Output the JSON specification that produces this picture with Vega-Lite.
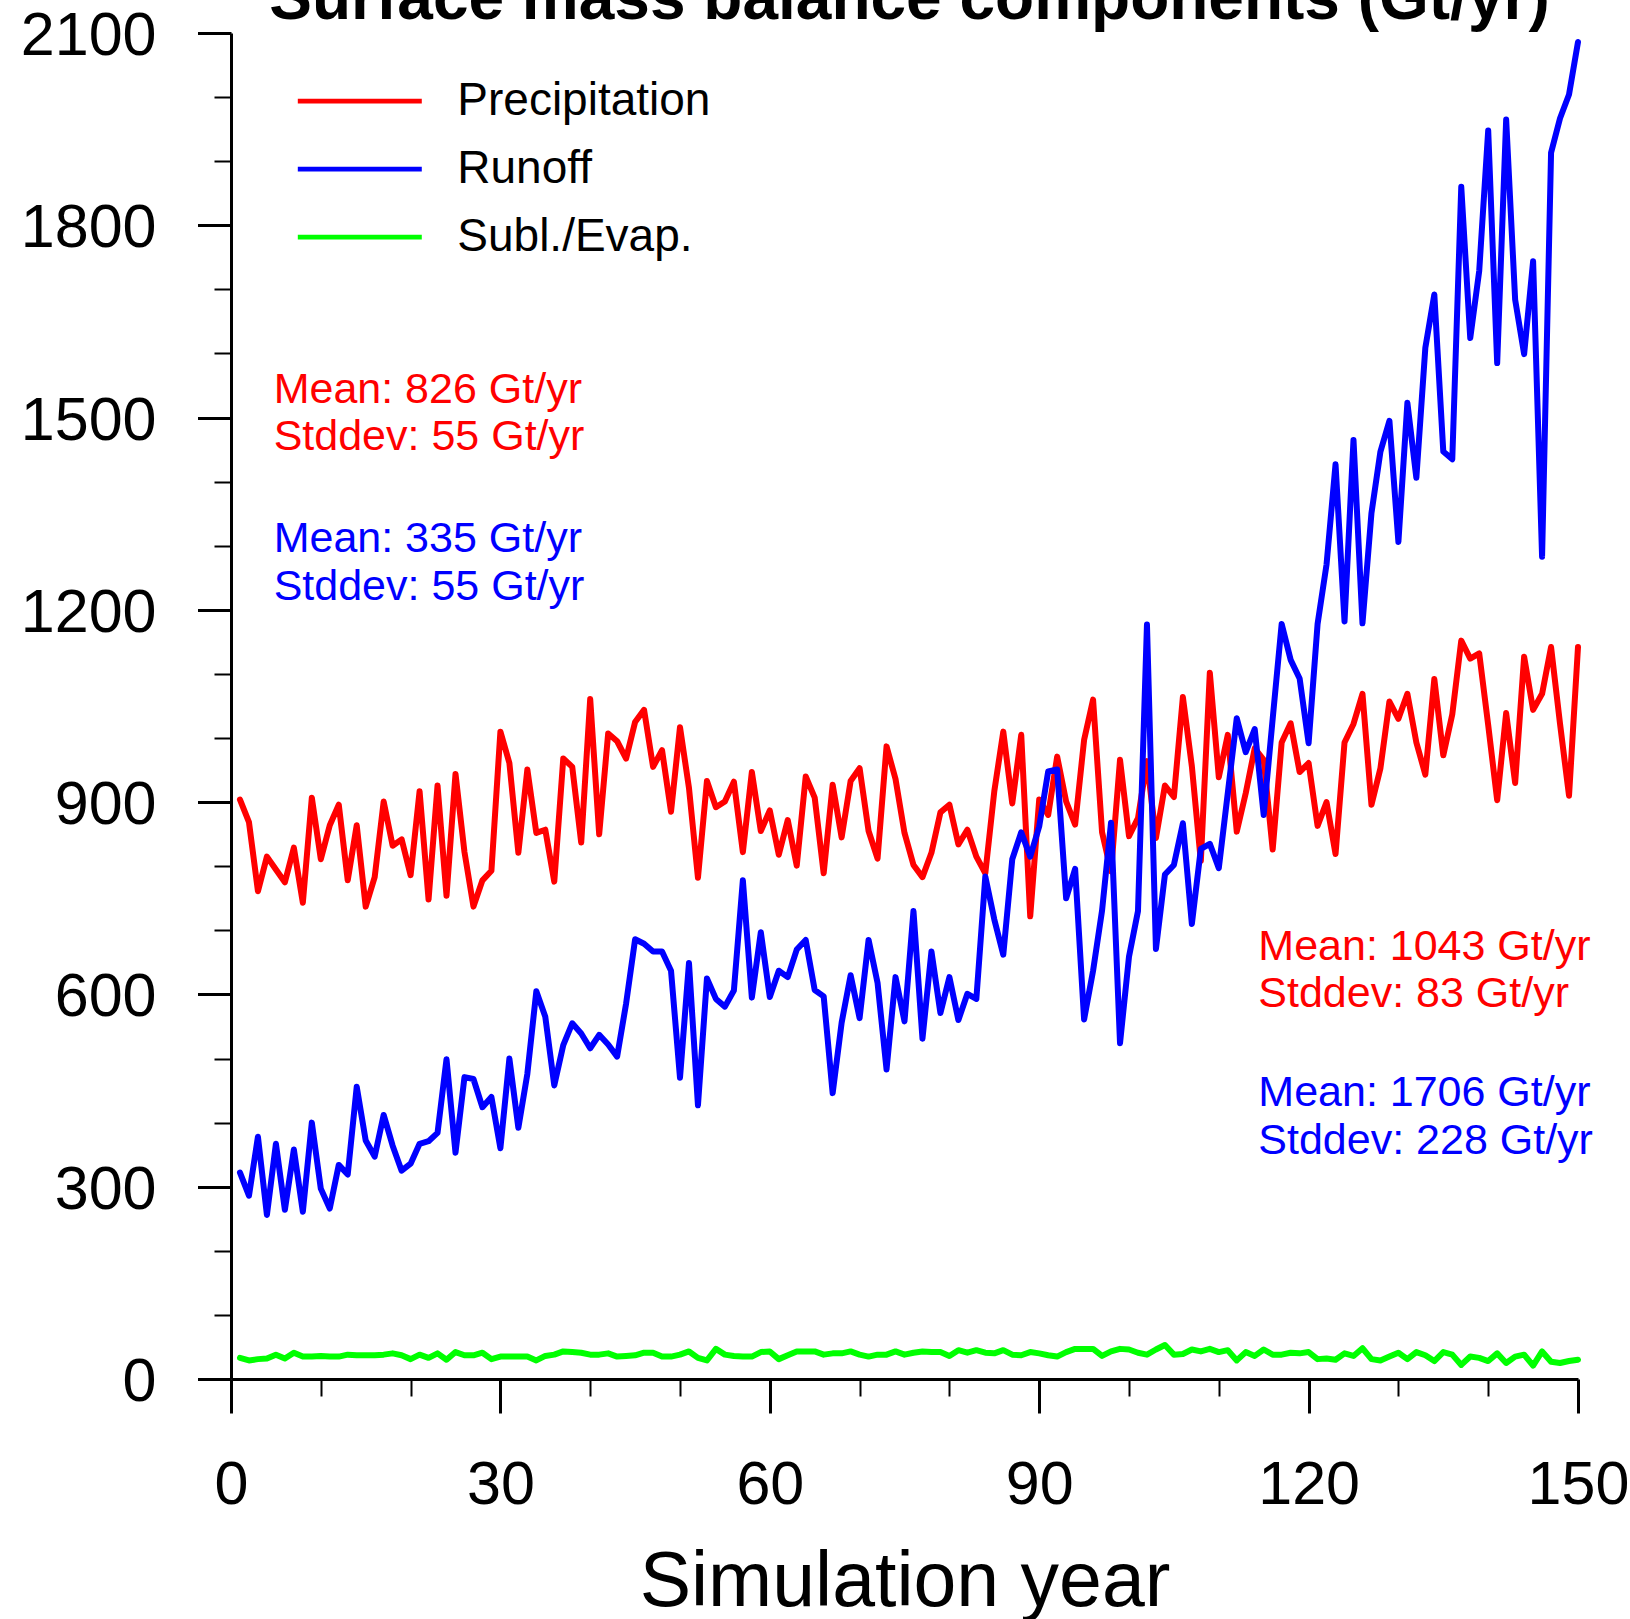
{
  "$schema": "https://vega.github.io/schema/vega-lite/v6.json",
  "autosize": {"type": "none"},
  "padding": {"left": 231, "top": 33, "right": 52, "bottom": 240},
  "width": 1347,
  "height": 1346,
  "background": "white",
  "title": {
    "text": "Surface mass balance components (Gt/yr)",
    "font": "Liberation Sans",
    "fontSize": 64,
    "fontWeight": "bold",
    "color": "black",
    "anchor": "middle",
    "frame": "group",
    "baseline": "alphabetic",
    "offset": -77,
    "dx": 5
  },
  "config": {
    "view": {"stroke": null},
    "axis": {"grid": false, "domainColor": "black", "tickColor": "black", "labelColor": "black", "titleColor": "black", "labelFont": "Liberation Sans", "titleFont": "Liberation Sans"}
  },
  "datasets": {
    "smb": [
      {"year":1,"series":"Precipitation","value":904},{"year":2,"series":"Precipitation","value":869},{"year":3,"series":"Precipitation","value":761},{"year":4,"series":"Precipitation","value":815},{"year":5,"series":"Precipitation","value":795},
      {"year":6,"series":"Precipitation","value":775},{"year":7,"series":"Precipitation","value":829},{"year":8,"series":"Precipitation","value":743},{"year":9,"series":"Precipitation","value":907},{"year":10,"series":"Precipitation","value":811},
      {"year":11,"series":"Precipitation","value":864},{"year":12,"series":"Precipitation","value":896},{"year":13,"series":"Precipitation","value":778},{"year":14,"series":"Precipitation","value":864},{"year":15,"series":"Precipitation","value":737},
      {"year":16,"series":"Precipitation","value":783},{"year":17,"series":"Precipitation","value":901},{"year":18,"series":"Precipitation","value":832},{"year":19,"series":"Precipitation","value":842},{"year":20,"series":"Precipitation","value":786},
      {"year":21,"series":"Precipitation","value":917},{"year":22,"series":"Precipitation","value":748},{"year":23,"series":"Precipitation","value":926},{"year":24,"series":"Precipitation","value":754},{"year":25,"series":"Precipitation","value":944},
      {"year":26,"series":"Precipitation","value":822},{"year":27,"series":"Precipitation","value":737},{"year":28,"series":"Precipitation","value":778},{"year":29,"series":"Precipitation","value":793},{"year":30,"series":"Precipitation","value":1010},
      {"year":31,"series":"Precipitation","value":961},{"year":32,"series":"Precipitation","value":821},{"year":33,"series":"Precipitation","value":951},{"year":34,"series":"Precipitation","value":852},{"year":35,"series":"Precipitation","value":857},
      {"year":36,"series":"Precipitation","value":776},{"year":37,"series":"Precipitation","value":968},{"year":38,"series":"Precipitation","value":955},{"year":39,"series":"Precipitation","value":837},{"year":40,"series":"Precipitation","value":1061},
      {"year":41,"series":"Precipitation","value":850},{"year":42,"series":"Precipitation","value":1007},{"year":43,"series":"Precipitation","value":995},{"year":44,"series":"Precipitation","value":968},{"year":45,"series":"Precipitation","value":1025},
      {"year":46,"series":"Precipitation","value":1044},{"year":47,"series":"Precipitation","value":955},{"year":48,"series":"Precipitation","value":981},{"year":49,"series":"Precipitation","value":885},{"year":50,"series":"Precipitation","value":1017},
      {"year":51,"series":"Precipitation","value":922},{"year":52,"series":"Precipitation","value":782},{"year":53,"series":"Precipitation","value":933},{"year":54,"series":"Precipitation","value":892},{"year":55,"series":"Precipitation","value":901},
      {"year":56,"series":"Precipitation","value":932},{"year":57,"series":"Precipitation","value":822},{"year":58,"series":"Precipitation","value":947},{"year":59,"series":"Precipitation","value":855},{"year":60,"series":"Precipitation","value":887},
      {"year":61,"series":"Precipitation","value":818},{"year":62,"series":"Precipitation","value":872},{"year":63,"series":"Precipitation","value":801},{"year":64,"series":"Precipitation","value":940},{"year":65,"series":"Precipitation","value":907},
      {"year":66,"series":"Precipitation","value":789},{"year":67,"series":"Precipitation","value":927},{"year":68,"series":"Precipitation","value":845},{"year":69,"series":"Precipitation","value":933},{"year":70,"series":"Precipitation","value":953},
      {"year":71,"series":"Precipitation","value":855},{"year":72,"series":"Precipitation","value":812},{"year":73,"series":"Precipitation","value":987},{"year":74,"series":"Precipitation","value":936},{"year":75,"series":"Precipitation","value":852},
      {"year":76,"series":"Precipitation","value":802},{"year":77,"series":"Precipitation","value":783},{"year":78,"series":"Precipitation","value":821},{"year":79,"series":"Precipitation","value":884},{"year":80,"series":"Precipitation","value":896},
      {"year":81,"series":"Precipitation","value":834},{"year":82,"series":"Precipitation","value":857},{"year":83,"series":"Precipitation","value":815},{"year":84,"series":"Precipitation","value":789},{"year":85,"series":"Precipitation","value":917},
      {"year":86,"series":"Precipitation","value":1010},{"year":87,"series":"Precipitation","value":898},{"year":88,"series":"Precipitation","value":1005},{"year":89,"series":"Precipitation","value":722},{"year":90,"series":"Precipitation","value":904},
      {"year":91,"series":"Precipitation","value":880},{"year":92,"series":"Precipitation","value":971},{"year":93,"series":"Precipitation","value":901},{"year":94,"series":"Precipitation","value":865},{"year":95,"series":"Precipitation","value":997},
      {"year":96,"series":"Precipitation","value":1060},{"year":97,"series":"Precipitation","value":853},{"year":98,"series":"Precipitation","value":792},{"year":99,"series":"Precipitation","value":966},{"year":100,"series":"Precipitation","value":847},
      {"year":101,"series":"Precipitation","value":875},{"year":102,"series":"Precipitation","value":964},{"year":103,"series":"Precipitation","value":844},{"year":104,"series":"Precipitation","value":926},{"year":105,"series":"Precipitation","value":908},
      {"year":106,"series":"Precipitation","value":1064},{"year":107,"series":"Precipitation","value":956},{"year":108,"series":"Precipitation","value":808},{"year":109,"series":"Precipitation","value":1102},{"year":110,"series":"Precipitation","value":939},
      {"year":111,"series":"Precipitation","value":1005},{"year":112,"series":"Precipitation","value":854},{"year":113,"series":"Precipitation","value":914},{"year":114,"series":"Precipitation","value":984},{"year":115,"series":"Precipitation","value":966},
      {"year":116,"series":"Precipitation","value":826},{"year":117,"series":"Precipitation","value":993},{"year":118,"series":"Precipitation","value":1023},{"year":119,"series":"Precipitation","value":947},{"year":120,"series":"Precipitation","value":961},
      {"year":121,"series":"Precipitation","value":863},{"year":122,"series":"Precipitation","value":900},{"year":123,"series":"Precipitation","value":819},{"year":124,"series":"Precipitation","value":993},{"year":125,"series":"Precipitation","value":1022},
      {"year":126,"series":"Precipitation","value":1069},{"year":127,"series":"Precipitation","value":896},{"year":128,"series":"Precipitation","value":953},{"year":129,"series":"Precipitation","value":1057},{"year":130,"series":"Precipitation","value":1030},
      {"year":131,"series":"Precipitation","value":1069},{"year":132,"series":"Precipitation","value":993},{"year":133,"series":"Precipitation","value":943},{"year":134,"series":"Precipitation","value":1092},{"year":135,"series":"Precipitation","value":973},
      {"year":136,"series":"Precipitation","value":1037},{"year":137,"series":"Precipitation","value":1152},{"year":138,"series":"Precipitation","value":1124},{"year":139,"series":"Precipitation","value":1132},{"year":140,"series":"Precipitation","value":1020},
      {"year":141,"series":"Precipitation","value":903},{"year":142,"series":"Precipitation","value":1039},{"year":143,"series":"Precipitation","value":930},{"year":144,"series":"Precipitation","value":1127},{"year":145,"series":"Precipitation","value":1044},
      {"year":146,"series":"Precipitation","value":1069},{"year":147,"series":"Precipitation","value":1142},{"year":148,"series":"Precipitation","value":1022},{"year":149,"series":"Precipitation","value":910},{"year":150,"series":"Precipitation","value":1142},

      {"year":1,"series":"Runoff","value":322},{"year":2,"series":"Runoff","value":286},{"year":3,"series":"Runoff","value":378},{"year":4,"series":"Runoff","value":256},{"year":5,"series":"Runoff","value":367},
      {"year":6,"series":"Runoff","value":264},{"year":7,"series":"Runoff","value":358},{"year":8,"series":"Runoff","value":261},{"year":9,"series":"Runoff","value":400},{"year":10,"series":"Runoff","value":297},
      {"year":11,"series":"Runoff","value":266},{"year":12,"series":"Runoff","value":334},{"year":13,"series":"Runoff","value":319},{"year":14,"series":"Runoff","value":456},{"year":15,"series":"Runoff","value":372},
      {"year":16,"series":"Runoff","value":347},{"year":17,"series":"Runoff","value":412},{"year":18,"series":"Runoff","value":364},{"year":19,"series":"Runoff","value":325},{"year":20,"series":"Runoff","value":336},
      {"year":21,"series":"Runoff","value":367},{"year":22,"series":"Runoff","value":371},{"year":23,"series":"Runoff","value":384},{"year":24,"series":"Runoff","value":499},{"year":25,"series":"Runoff","value":353},
      {"year":26,"series":"Runoff","value":471},{"year":27,"series":"Runoff","value":468},{"year":28,"series":"Runoff","value":424},{"year":29,"series":"Runoff","value":440},{"year":30,"series":"Runoff","value":360},
      {"year":31,"series":"Runoff","value":500},{"year":32,"series":"Runoff","value":392},{"year":33,"series":"Runoff","value":476},{"year":34,"series":"Runoff","value":605},{"year":35,"series":"Runoff","value":565},
      {"year":36,"series":"Runoff","value":458},{"year":37,"series":"Runoff","value":521},{"year":38,"series":"Runoff","value":555},{"year":39,"series":"Runoff","value":539},{"year":40,"series":"Runoff","value":516},
      {"year":41,"series":"Runoff","value":537},{"year":42,"series":"Runoff","value":522},{"year":43,"series":"Runoff","value":503},{"year":44,"series":"Runoff","value":586},{"year":45,"series":"Runoff","value":686},
      {"year":46,"series":"Runoff","value":679},{"year":47,"series":"Runoff","value":667},{"year":48,"series":"Runoff","value":667},{"year":49,"series":"Runoff","value":637},{"year":50,"series":"Runoff","value":470},
      {"year":51,"series":"Runoff","value":649},{"year":52,"series":"Runoff","value":427},{"year":53,"series":"Runoff","value":625},{"year":54,"series":"Runoff","value":593},{"year":55,"series":"Runoff","value":581},
      {"year":56,"series":"Runoff","value":606},{"year":57,"series":"Runoff","value":778},{"year":58,"series":"Runoff","value":595},{"year":59,"series":"Runoff","value":697},{"year":60,"series":"Runoff","value":596},
      {"year":61,"series":"Runoff","value":637},{"year":62,"series":"Runoff","value":627},{"year":63,"series":"Runoff","value":670},{"year":64,"series":"Runoff","value":685},{"year":65,"series":"Runoff","value":607},
      {"year":66,"series":"Runoff","value":597},{"year":67,"series":"Runoff","value":446},{"year":68,"series":"Runoff","value":556},{"year":69,"series":"Runoff","value":630},{"year":70,"series":"Runoff","value":563},
      {"year":71,"series":"Runoff","value":685},{"year":72,"series":"Runoff","value":618},{"year":73,"series":"Runoff","value":483},{"year":74,"series":"Runoff","value":627},{"year":75,"series":"Runoff","value":558},
      {"year":76,"series":"Runoff","value":730},{"year":77,"series":"Runoff","value":531},{"year":78,"series":"Runoff","value":667},{"year":79,"series":"Runoff","value":571},{"year":80,"series":"Runoff","value":627},
      {"year":81,"series":"Runoff","value":560},{"year":82,"series":"Runoff","value":601},{"year":83,"series":"Runoff","value":593},{"year":84,"series":"Runoff","value":784},{"year":85,"series":"Runoff","value":717},
      {"year":86,"series":"Runoff","value":662},{"year":87,"series":"Runoff","value":811},{"year":88,"series":"Runoff","value":853},{"year":89,"series":"Runoff","value":815},{"year":90,"series":"Runoff","value":862},
      {"year":91,"series":"Runoff","value":948},{"year":92,"series":"Runoff","value":951},{"year":93,"series":"Runoff","value":750},{"year":94,"series":"Runoff","value":796},{"year":95,"series":"Runoff","value":561},
      {"year":96,"series":"Runoff","value":637},{"year":97,"series":"Runoff","value":731},{"year":98,"series":"Runoff","value":868},{"year":99,"series":"Runoff","value":524},{"year":100,"series":"Runoff","value":659},
      {"year":101,"series":"Runoff","value":730},{"year":102,"series":"Runoff","value":1177},{"year":103,"series":"Runoff","value":671},{"year":104,"series":"Runoff","value":787},{"year":105,"series":"Runoff","value":802},
      {"year":106,"series":"Runoff","value":867},{"year":107,"series":"Runoff","value":710},{"year":108,"series":"Runoff","value":827},{"year":109,"series":"Runoff","value":835},{"year":110,"series":"Runoff","value":797},
      {"year":111,"series":"Runoff","value":914},{"year":112,"series":"Runoff","value":1031},{"year":113,"series":"Runoff","value":978},{"year":114,"series":"Runoff","value":1014},{"year":115,"series":"Runoff","value":880},
      {"year":116,"series":"Runoff","value":1030},{"year":117,"series":"Runoff","value":1178},{"year":118,"series":"Runoff","value":1122},{"year":119,"series":"Runoff","value":1093},{"year":120,"series":"Runoff","value":992},
      {"year":121,"series":"Runoff","value":1178},{"year":122,"series":"Runoff","value":1271},{"year":123,"series":"Runoff","value":1427},{"year":124,"series":"Runoff","value":1182},{"year":125,"series":"Runoff","value":1465},
      {"year":126,"series":"Runoff","value":1179},{"year":127,"series":"Runoff","value":1351},{"year":128,"series":"Runoff","value":1447},{"year":129,"series":"Runoff","value":1495},{"year":130,"series":"Runoff","value":1306},
      {"year":131,"series":"Runoff","value":1523},{"year":132,"series":"Runoff","value":1406},{"year":133,"series":"Runoff","value":1609},{"year":134,"series":"Runoff","value":1692},{"year":135,"series":"Runoff","value":1447},
      {"year":136,"series":"Runoff","value":1435},{"year":137,"series":"Runoff","value":1860},{"year":138,"series":"Runoff","value":1624},{"year":139,"series":"Runoff","value":1729},{"year":140,"series":"Runoff","value":1948},
      {"year":141,"series":"Runoff","value":1585},{"year":142,"series":"Runoff","value":1965},{"year":143,"series":"Runoff","value":1684},{"year":144,"series":"Runoff","value":1599},{"year":145,"series":"Runoff","value":1744},
      {"year":146,"series":"Runoff","value":1283},{"year":147,"series":"Runoff","value":1913},{"year":148,"series":"Runoff","value":1967},{"year":149,"series":"Runoff","value":2004},{"year":150,"series":"Runoff","value":2086},

      {"year":1,"series":"Subl./Evap.","value":33},{"year":2,"series":"Subl./Evap.","value":29},{"year":3,"series":"Subl./Evap.","value":31},{"year":4,"series":"Subl./Evap.","value":32},{"year":5,"series":"Subl./Evap.","value":38},
      {"year":6,"series":"Subl./Evap.","value":32},{"year":7,"series":"Subl./Evap.","value":41},{"year":8,"series":"Subl./Evap.","value":35},{"year":9,"series":"Subl./Evap.","value":35},{"year":10,"series":"Subl./Evap.","value":36},
      {"year":11,"series":"Subl./Evap.","value":35},{"year":12,"series":"Subl./Evap.","value":35},{"year":13,"series":"Subl./Evap.","value":38},{"year":14,"series":"Subl./Evap.","value":37},{"year":15,"series":"Subl./Evap.","value":37},
      {"year":16,"series":"Subl./Evap.","value":37},{"year":17,"series":"Subl./Evap.","value":38},{"year":18,"series":"Subl./Evap.","value":40},{"year":19,"series":"Subl./Evap.","value":37},{"year":20,"series":"Subl./Evap.","value":31},
      {"year":21,"series":"Subl./Evap.","value":38},{"year":22,"series":"Subl./Evap.","value":33},{"year":23,"series":"Subl./Evap.","value":40},{"year":24,"series":"Subl./Evap.","value":30},{"year":25,"series":"Subl./Evap.","value":42},
      {"year":26,"series":"Subl./Evap.","value":37},{"year":27,"series":"Subl./Evap.","value":37},{"year":28,"series":"Subl./Evap.","value":41},{"year":29,"series":"Subl./Evap.","value":31},{"year":30,"series":"Subl./Evap.","value":35},
      {"year":31,"series":"Subl./Evap.","value":35},{"year":32,"series":"Subl./Evap.","value":35},{"year":33,"series":"Subl./Evap.","value":35},{"year":34,"series":"Subl./Evap.","value":29},{"year":35,"series":"Subl./Evap.","value":36},
      {"year":36,"series":"Subl./Evap.","value":38},{"year":37,"series":"Subl./Evap.","value":43},{"year":38,"series":"Subl./Evap.","value":42},{"year":39,"series":"Subl./Evap.","value":41},{"year":40,"series":"Subl./Evap.","value":38},
      {"year":41,"series":"Subl./Evap.","value":38},{"year":42,"series":"Subl./Evap.","value":40},{"year":43,"series":"Subl./Evap.","value":35},{"year":44,"series":"Subl./Evap.","value":36},{"year":45,"series":"Subl./Evap.","value":37},
      {"year":46,"series":"Subl./Evap.","value":41},{"year":47,"series":"Subl./Evap.","value":41},{"year":48,"series":"Subl./Evap.","value":35},{"year":49,"series":"Subl./Evap.","value":35},{"year":50,"series":"Subl./Evap.","value":38},
      {"year":51,"series":"Subl./Evap.","value":43},{"year":52,"series":"Subl./Evap.","value":33},{"year":53,"series":"Subl./Evap.","value":29},{"year":54,"series":"Subl./Evap.","value":47},{"year":55,"series":"Subl./Evap.","value":38},
      {"year":56,"series":"Subl./Evap.","value":36},{"year":57,"series":"Subl./Evap.","value":35},{"year":58,"series":"Subl./Evap.","value":35},{"year":59,"series":"Subl./Evap.","value":42},{"year":60,"series":"Subl./Evap.","value":43},
      {"year":61,"series":"Subl./Evap.","value":31},{"year":62,"series":"Subl./Evap.","value":37},{"year":63,"series":"Subl./Evap.","value":43},{"year":64,"series":"Subl./Evap.","value":43},{"year":65,"series":"Subl./Evap.","value":43},
      {"year":66,"series":"Subl./Evap.","value":38},{"year":67,"series":"Subl./Evap.","value":40},{"year":68,"series":"Subl./Evap.","value":40},{"year":69,"series":"Subl./Evap.","value":43},{"year":70,"series":"Subl./Evap.","value":38},
      {"year":71,"series":"Subl./Evap.","value":35},{"year":72,"series":"Subl./Evap.","value":38},{"year":73,"series":"Subl./Evap.","value":38},{"year":74,"series":"Subl./Evap.","value":43},{"year":75,"series":"Subl./Evap.","value":38},
      {"year":76,"series":"Subl./Evap.","value":41},{"year":77,"series":"Subl./Evap.","value":43},{"year":78,"series":"Subl./Evap.","value":42},{"year":79,"series":"Subl./Evap.","value":42},{"year":80,"series":"Subl./Evap.","value":36},
      {"year":81,"series":"Subl./Evap.","value":45},{"year":82,"series":"Subl./Evap.","value":41},{"year":83,"series":"Subl./Evap.","value":45},{"year":84,"series":"Subl./Evap.","value":41},{"year":85,"series":"Subl./Evap.","value":40},
      {"year":86,"series":"Subl./Evap.","value":45},{"year":87,"series":"Subl./Evap.","value":38},{"year":88,"series":"Subl./Evap.","value":37},{"year":89,"series":"Subl./Evap.","value":42},{"year":90,"series":"Subl./Evap.","value":40},
      {"year":91,"series":"Subl./Evap.","value":37},{"year":92,"series":"Subl./Evap.","value":35},{"year":93,"series":"Subl./Evap.","value":42},{"year":94,"series":"Subl./Evap.","value":47},{"year":95,"series":"Subl./Evap.","value":47},
      {"year":96,"series":"Subl./Evap.","value":47},{"year":97,"series":"Subl./Evap.","value":36},{"year":98,"series":"Subl./Evap.","value":43},{"year":99,"series":"Subl./Evap.","value":47},{"year":100,"series":"Subl./Evap.","value":46},
      {"year":101,"series":"Subl./Evap.","value":41},{"year":102,"series":"Subl./Evap.","value":38},{"year":103,"series":"Subl./Evap.","value":46},{"year":104,"series":"Subl./Evap.","value":53},{"year":105,"series":"Subl./Evap.","value":38},
      {"year":106,"series":"Subl./Evap.","value":39},{"year":107,"series":"Subl./Evap.","value":46},{"year":108,"series":"Subl./Evap.","value":43},{"year":109,"series":"Subl./Evap.","value":47},{"year":110,"series":"Subl./Evap.","value":42},
      {"year":111,"series":"Subl./Evap.","value":45},{"year":112,"series":"Subl./Evap.","value":29},{"year":113,"series":"Subl./Evap.","value":42},{"year":114,"series":"Subl./Evap.","value":36},{"year":115,"series":"Subl./Evap.","value":46},
      {"year":116,"series":"Subl./Evap.","value":38},{"year":117,"series":"Subl./Evap.","value":38},{"year":118,"series":"Subl./Evap.","value":41},{"year":119,"series":"Subl./Evap.","value":40},{"year":120,"series":"Subl./Evap.","value":42},
      {"year":121,"series":"Subl./Evap.","value":31},{"year":122,"series":"Subl./Evap.","value":32},{"year":123,"series":"Subl./Evap.","value":30},{"year":124,"series":"Subl./Evap.","value":40},{"year":125,"series":"Subl./Evap.","value":36},
      {"year":126,"series":"Subl./Evap.","value":48},{"year":127,"series":"Subl./Evap.","value":31},{"year":128,"series":"Subl./Evap.","value":29},{"year":129,"series":"Subl./Evap.","value":35},{"year":130,"series":"Subl./Evap.","value":41},
      {"year":131,"series":"Subl./Evap.","value":31},{"year":132,"series":"Subl./Evap.","value":42},{"year":133,"series":"Subl./Evap.","value":37},{"year":134,"series":"Subl./Evap.","value":28},{"year":135,"series":"Subl./Evap.","value":42},
      {"year":136,"series":"Subl./Evap.","value":38},{"year":137,"series":"Subl./Evap.","value":22},{"year":138,"series":"Subl./Evap.","value":35},{"year":139,"series":"Subl./Evap.","value":33},{"year":140,"series":"Subl./Evap.","value":28},
      {"year":141,"series":"Subl./Evap.","value":40},{"year":142,"series":"Subl./Evap.","value":25},{"year":143,"series":"Subl./Evap.","value":35},{"year":144,"series":"Subl./Evap.","value":38},{"year":145,"series":"Subl./Evap.","value":21},
      {"year":146,"series":"Subl./Evap.","value":43},{"year":147,"series":"Subl./Evap.","value":27},{"year":148,"series":"Subl./Evap.","value":25},{"year":149,"series":"Subl./Evap.","value":28},{"year":150,"series":"Subl./Evap.","value":30}
    ]
  },
  "resolve": {"axis": {"x": "independent", "y": "independent"}},
  "layer": [
    {
      "data": {"name": "smb"},
      "mark": {"type": "line", "strokeWidth": 6, "strokeJoin": "round", "strokeCap": "round"},
      "encoding": {
        "x": {
          "field": "year", "type": "quantitative",
          "scale": {"domain": [0, 150], "nice": false, "zero": false},
          "axis": {
            "orient": "bottom", "values": [0, 30, 60, 90, 120, 150],
            "tickSize": 34, "tickWidth": 3, "domainWidth": 3,
            "labelFontSize": 61, "labelPadding": 42, "labelFlush": false, "labelOverlap": false,
            "title": "Simulation year", "titleFontSize": 77, "titleFontWeight": "normal",
            "titleBaseline": "alphabetic", "titleY": 226.5
          }
        },
        "y": {
          "field": "value", "type": "quantitative",
          "scale": {"domain": [0, 2100], "nice": false, "zero": true},
          "axis": {
            "orient": "left", "values": [0, 300, 600, 900, 1200, 1500, 1800, 2100], "format": "d",
            "tickSize": 33.5, "tickWidth": 3, "domainWidth": 3,
            "labelFontSize": 61, "labelPadding": 41.5, "labelFlush": false, "labelOverlap": false,
            "labelOffset": 3.5, "title": null
          }
        },
        "color": {
          "field": "series", "type": "nominal",
          "scale": {"domain": ["Precipitation", "Runoff", "Subl./Evap."], "range": ["#ff0000", "#0000ff", "#00ff00"]},
          "legend": {
            "title": null, "orient": "none", "legendX": 66.3, "legendY": 44.7, "padding": 0,
            "direction": "vertical", "symbolType": "M-3,0H3", "symbolSize": 1708, "symbolStrokeWidth": 4.7,
            "symbolOffset": 39, "labelOffset": 74, "labelFontSize": 46, "labelFont": "Liberation Sans",
            "labelColor": "black", "labelLimit": 0, "rowPadding": 21
          }
        }
      }
    },
    {
      "data": {"values": [{"year": 0, "value": 0}]},
      "mark": {"type": "point", "opacity": 0},
      "encoding": {
        "x": {
          "field": "year", "type": "quantitative",
          "scale": {"domain": [0, 150], "nice": false, "zero": false},
          "axis": {"orient": "bottom", "values": [10, 20, 40, 50, 70, 80, 100, 110, 130, 140], "labels": false, "domain": false, "tickSize": 17, "tickWidth": 2, "title": null}
        },
        "y": {
          "field": "value", "type": "quantitative",
          "scale": {"domain": [0, 2100], "nice": false, "zero": true},
          "axis": {"orient": "left", "values": [100, 200, 400, 500, 700, 800, 1000, 1100, 1300, 1400, 1600, 1700, 1900, 2000], "labels": false, "domain": false, "tickSize": 17, "tickWidth": 2, "title": null}
        }
      }
    },
    {
      "data": {"values": [{"label": ["Mean: 826 Gt/yr", "Stddev: 55 Gt/yr"]}]},
      "mark": {"type": "text", "align": "left", "baseline": "alphabetic", "font": "Liberation Sans", "fontSize": 43, "lineHeight": 47.3, "fill": "#ff0000"},
      "encoding": {
        "x": {"datum": 4.75, "type": "quantitative", "axis": null},
        "y": {"datum": 1523.4, "type": "quantitative", "axis": null},
        "text": {"field": "label"}
      }
    },
    {
      "data": {"values": [{"label": ["Mean: 335 Gt/yr", "Stddev: 55 Gt/yr"]}]},
      "mark": {"type": "text", "align": "left", "baseline": "alphabetic", "font": "Liberation Sans", "fontSize": 43, "lineHeight": 47.3, "fill": "#0000ff"},
      "encoding": {
        "x": {"datum": 4.75, "type": "quantitative", "axis": null},
        "y": {"datum": 1289.5, "type": "quantitative", "axis": null},
        "text": {"field": "label"}
      }
    },
    {
      "data": {"values": [{"label": ["Mean: 1043 Gt/yr", "Stddev: 83 Gt/yr"]}]},
      "mark": {"type": "text", "align": "left", "baseline": "alphabetic", "font": "Liberation Sans", "fontSize": 43, "lineHeight": 47.3, "fill": "#ff0000"},
      "encoding": {
        "x": {"datum": 114.4, "type": "quantitative", "axis": null},
        "y": {"datum": 654.2, "type": "quantitative", "axis": null},
        "text": {"field": "label"}
      }
    },
    {
      "data": {"values": [{"label": ["Mean: 1706 Gt/yr", "Stddev: 228 Gt/yr"]}]},
      "mark": {"type": "text", "align": "left", "baseline": "alphabetic", "font": "Liberation Sans", "fontSize": 43, "lineHeight": 47.3, "fill": "#0000ff"},
      "encoding": {
        "x": {"datum": 114.4, "type": "quantitative", "axis": null},
        "y": {"datum": 425.5, "type": "quantitative", "axis": null},
        "text": {"field": "label"}
      }
    }
  ]
}
